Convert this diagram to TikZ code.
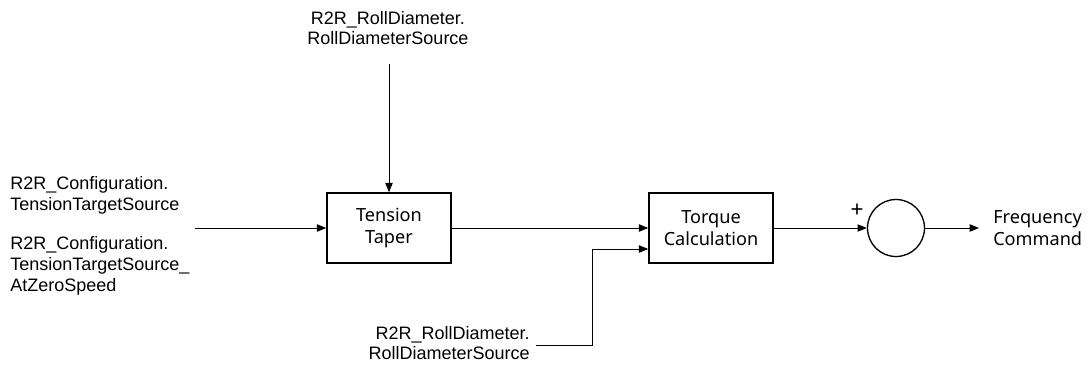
\documentclass[tikz,border=0pt]{standalone}
\usepackage{fontspec}
\setmainfont{Liberation Sans}
\newfontfamily\boxfont{Noto Sans}
\usetikzlibrary{arrows.meta}
\begin{document}
\begin{tikzpicture}[x=0.75pt,y=-0.75pt,
  lbl/.style={font=\fontsize{13.5}{15.6}\selectfont, inner sep=0pt},
  blk/.style={draw, line width=1.1pt, minimum width=124*0.75pt, minimum height=70*0.75pt, align=center, font=\boxfont\fontsize{13.6}{17}\selectfont, inner sep=0pt},
  sumnode/.style={draw, line width=1pt, circle, minimum size=57*0.75pt, inner sep=0pt},
  conn/.style={line width=0.75pt, -{Triangle[length=7pt,width=5.5pt]}},
  wire/.style={line width=0.75pt}]
\useasboundingbox (0,0) rectangle (1092,365);
\node[blk] (tt) at (389,228) {Tension\\Taper};
\node[blk] (tc) at (711,228) {Torque\\Calculation};
\node[sumnode] (sum) at (896,228) {};
\node[lbl, align=center] (top) at (388,28) {R2R\_RollDiameter.\\RollDiameterSource};
\node[lbl, align=left, anchor=west] (cfg1) at (10,195) {R2R\_Configuration.\\TensionTargetSource};
\node[lbl, align=left, anchor=west] (cfg2) at (10,266) {R2R\_Configuration.\\TensionTargetSource\_\\AtZeroSpeed};
\node[lbl, align=right, anchor=east] (bot) at (530,343) {R2R\_RollDiameter.\\RollDiameterSource};
\node[font=\boxfont\fontsize{13.6}{17}\selectfont, align=left, anchor=west, inner sep=0pt] (out) at (993,228) {Frequency\\Command};
\node[font=\boxfont\bfseries\fontsize{17}{18}\selectfont, inner sep=0pt] (plus) at (857,211) {+};
\coordinate (in) at (195,228);
\coordinate (topend) at (389,64);
\coordinate (botend) at (536,345);
\coordinate (outend) at (979,228);
\draw[conn] (in) -- (tt.west);
\draw[conn] (topend) -- (tt.north);
\draw[conn] (tt.east) -- (tt.east -| tc.west);
\draw[conn] (botend) -- (592,345) -- (592,249) -- (tc.west |- 0,249);
\draw[conn] (tc.east) -- (sum.west);
\draw[conn] (sum.east) -- (outend);
\end{tikzpicture}
\end{document}
